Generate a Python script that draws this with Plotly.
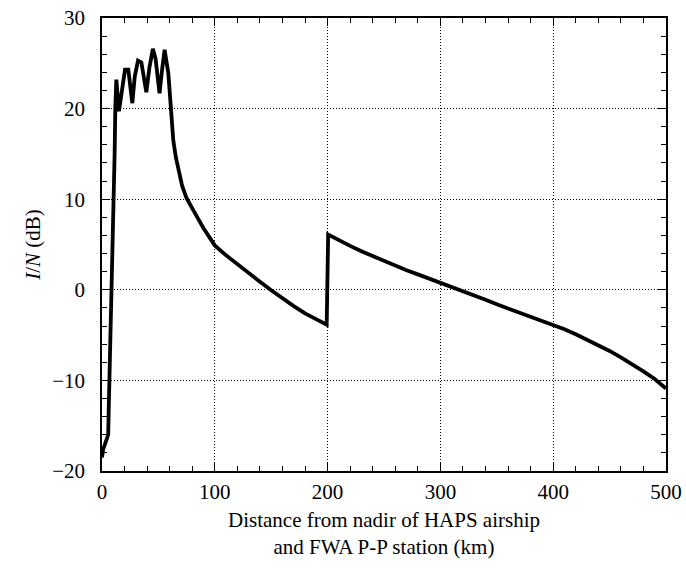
import plotly.graph_objects as go

distance_km = [0, 1, 2.5, 4, 5.5, 6, 7, 8, 8.6, 9.5, 10.5, 11.2, 11.8, 12.7, 15, 17, 20.4, 23.3,
               26.9, 29, 31.9, 34.9, 39.3, 42, 45.1, 47.5, 51, 53, 55.5, 58.8, 61.2, 63.2, 65.5,
               67.6, 71, 75, 80, 85.4, 90, 95.7, 100, 110, 120, 130, 140, 150, 160, 170,
               180, 190, 196.2, 199.2, 200.5, 210, 220, 230, 240, 250, 260, 270, 280, 290, 300,
               310, 320, 330, 340, 350, 360, 370, 380, 390, 400, 410, 420, 430, 440, 450, 460,
               470, 480, 490, 500]
in_db = [-18.5, -17.6, -17.1, -16.5, -16.0, -13.0, -8.0, -3.0, 0.0, 4.0, 10.0, 15.0, 20.0, 23.2,
         19.7, 21.5, 24.3, 24.3, 20.6, 23.5, 25.3, 25.1, 21.8, 24.5, 26.6, 25.5, 21.7, 24.0,
         26.5, 23.9, 20.0, 16.5, 14.6, 13.2, 11.5, 10.1, 8.9, 7.8, 6.8, 5.8, 4.9, 3.8, 2.8,
         1.85, 0.9, -0.05, -0.95, -1.8, -2.6, -3.3, -3.7, -3.85, 6.1, 5.45, 4.85, 4.25, 3.7,
         3.15, 2.65, 2.15, 1.7, 1.25, 0.8, 0.3, -0.15, -0.65, -1.1, -1.6, -2.05, -2.5, -2.95,
         -3.4, -3.85, -4.35, -4.9, -5.5, -6.1, -6.75, -7.45, -8.2, -9.0, -9.85, -10.9]

x_ticks = [0, 100, 200, 300, 400, 500]
y_ticks = [-20, -10, 0, 10, 20, 30]
y_tick_text = ["\u221220", "\u221210", "0", "10", "20", "30"]

fig = go.Figure()
fig.add_trace(go.Scatter(x=distance_km, y=in_db, mode="lines",
                         line=dict(color="black", width=3.8),
                         showlegend=False, hoverinfo="skip"))

font = dict(family="Liberation Serif, Times New Roman, serif", size=21, color="black")

axis_common = dict(
    showline=True, linecolor="black", linewidth=1.5, mirror="allticks",
    ticks="inside", ticklen=8, tickwidth=1.2, tickcolor="black",
    showgrid=True, gridcolor="black", griddash="1px,2px", gridwidth=1,
    zeroline=False, tickfont=font, automargin=False, ticklabeloverflow="allow",
)

fig.update_xaxes(range=[0, 500], tickvals=x_ticks, ticktext=[str(v) for v in x_ticks],
                 minor=dict(dtick=20, ticks="inside", ticklen=5, tickcolor="black",
                            tickwidth=1, showgrid=False),
                 ticklabelstandoff=1,
                 title=dict(text="Distance from nadir of HAPS airship<br>and FWA P-P station (km)",
                            font=font, standoff=9),
                 **axis_common)
fig.update_yaxes(range=[-20, 30], tickvals=y_ticks, ticktext=y_tick_text,
                 minor=dict(dtick=2, ticks="inside", ticklen=5, tickcolor="black",
                            tickwidth=1, showgrid=False),
                 ticklabelstandoff=11,
                 title=dict(text="<i>I</i>/<i>N</i> (dB)", font=font, standoff=6),
                 **axis_common)

fig.update_layout(width=686, height=572, margin=dict(l=102, r=20, t=18, b=101),
                  plot_bgcolor="white", paper_bgcolor="white", font=font)

# remove the default 8px page margin so the figure fills the 686x572 window exactly
fig.write_html("out.html", config={"displayModeBar": False},
               post_script="document.body.style.margin='0px';document.body.style.overflow='hidden';")
